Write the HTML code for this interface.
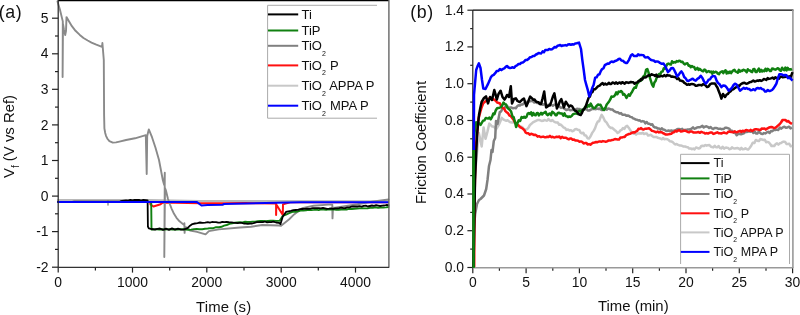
<!DOCTYPE html>
<html><head><meta charset="utf-8"><style>
html,body{margin:0;padding:0;background:#fff;width:800px;height:315px;overflow:hidden}
svg{display:block;will-change:transform}
</style></head><body>
<svg width="800" height="315" viewBox="0 0 800 315">
<rect width="800" height="315" fill="#fff"/>
<g fill="none" stroke-linejoin="round" stroke-linecap="round">
<path d="M58 201.4 L150 201.4 L150.5 204.5 L153.5 206.5 L160.6 204.3 L163 202.5 L200 203.3 L224 203.3 L245 203 L276.1 203.5 L276.1 215 L276.3 204.4 L282.8 215 L283 204.4 L290 202.3 L388 202.2" stroke="#ff1010" stroke-width="2"/>
<path d="M58 200 L148 200 L200 201 L388 201.3" stroke="#b8b8b8" stroke-width="2"/>
<path d="M57.5 1.5 L59.9 9.5 L62.8 21.4 L62.6 77 L63 24 L64 30 L65.2 35 L66 31 L66.5 17.1 L68.5 20.5 L71.9 26.2 L75.5 30.8 L79.8 34.9 L83.5 38 L87.7 40.5 L91.5 42.6 L95.7 44.4 L102 46.8 L102.4 43 L103.8 60 L104.1 115 L104.4 128.3 L105.2 133 L106.1 136.1 L107.6 139 L109.4 141.1 L112.8 142.6 L116 142.4 L119.4 141.6 L126.1 140 L135 138.3 L145.8 135.2 L146.7 174 L147.2 136 L148.8 129.4 L152 137.2 L155.5 147.7 L159 160 L162.8 180 L164.2 185 L164.8 172.7 L164.3 257 L165 188 L165.8 190 L168 199 L170 204.5 L171.7 208.8 L174 213.8 L176.5 217.8 L179.5 221.3 L182.9 224 L184.2 225 L184.4 223.3 L184.6 232.9 L185 227 L187.6 228 L190.1 230.5 L197 231.8 L205.6 234.4 L208.9 231.1 L218.9 229.4 L240 227.5 L251.1 226.7 L262.2 225 L278.9 225.5 L281.1 225.7 L289.2 219.2 L294.1 214.4 L302.2 208.3 L313.6 205.8 L328.2 204.6 L332.3 204.6 L332.5 218.4 L333 207.6 L335 207.6 L357.5 204.3 L373.7 201.4 L388.5 199.5" stroke="#8a8a8a" stroke-width="1.9"/>
<path d="M108 201 L108 205" stroke="#909090" stroke-width="1.5"/>
<path d="M58 201.9 L60.5 201.9 L63 201.9 L65.6 201.9 L68.1 201.9 L70.6 201.9 L73.1 201.9 L75.6 201.9 L78.2 201.9 L80.7 201.9 L83.2 201.9 L85.7 201.9 L88.2 201.9 L90.7 201.9 L93.3 201.9 L95.8 201.9 L98.3 201.9 L100.8 201.9 L103.3 201.9 L105.9 201.9 L108.4 201.9 L110.9 201.9 L113.4 201.9 L115.9 201.9 L118.5 201.9 L121 201.9 L123.5 201.9 L126 201.9 L128.5 201.9 L131 201.9 L133.6 201.9 L136.1 201.9 L138.6 201.9 L141.1 201.9 L143.6 201.9 L146.2 201.9 L148.7 201.9 L151.2 201.9 L151.5 229.5 L154.1 229.4 L156.8 229.2 L159.4 229.6 L162.1 229.2 L164.7 229.6 L167.3 229.4 L170 229.2 L172.6 229.6 L175.3 229.2 L177.9 229.5 L180.5 229.2 L183.2 229.3 L185.8 229.5 L188.5 229.9 L191.1 229.6 L193.9 229.1 L196.7 229 L199.4 229.2 L202.2 229.2 L205 228.7 L207.8 228.5 L210.6 228.1 L213.4 228.2 L216.1 227.2 L218.9 227.2 L221.5 226.8 L224.1 225.6 L226.7 225 L229.4 223.9 L232.2 223.3 L234.8 222.7 L237.4 222.5 L240 222.3 L242.5 222.4 L245.1 221.8 L247.6 222 L250.2 221.9 L252.7 221.6 L255.2 221.6 L257.8 221.1 L260.3 221 L262.8 221 L265.4 221.3 L267.9 221 L270.5 220.8 L273 220.8 L276.2 220.9 L279.5 220.9 L282.7 216 L286 214.6 L289.2 213.1 L292.5 211.9 L295.2 211.8 L297.9 211.4 L300.6 210.6 L303.3 210.6 L306 210.2 L308.7 209.8 L311.2 210.1 L313.7 209.9 L316.2 209.6 L318.7 210.1 L321.2 209.4 L323.7 209.6 L326.2 209.8 L328.7 209.3 L331.2 209.6 L333.7 209.2 L336.2 209.7 L338.7 209.7 L341.2 209.5 L343.8 209.4 L346.5 209.5 L349.1 208.9 L351.7 209 L354.4 208.7 L357 208.5 L359.6 208.4 L362.2 208.2 L364.9 208.4 L367.5 208.4 L370.1 207.9 L372.8 207.9 L375.4 207.3 L378 207.7 L380.6 207.5 L383.2 207.6 L385.9 207.4 L388.5 207" stroke="#108010" stroke-width="1.9"/>
<path d="M58 201.8 L60 201.8 L62 201.8 L64 201.8 L66 201.8 L68 201.8 L70 201.8 L72 201.8 L74 201.7 L76 201.7 L78 201.7 L80 201.7 L82 201.7 L84 201.7 L86 201.7 L88 201.7 L90 201.7 L92 201.7 L94 201.7 L96 201.7 L98 201.7 L100 201.7 L102 201.7 L104 201.6 L106 201.6 L108 201.6 L110 201.6 L112 201.6 L114 201.6 L116 201.6 L118 201.6 L120 201.3 L122 200.8 L124 200.6 L126 200.4 L128.2 200.6 L130.3 199.9 L132.5 200.3 L134.6 200 L136.8 200 L139 199.9 L141.1 200.6 L143.3 199.9 L145.4 200.1 L147.6 200.3 L147.9 226.5 L148.8 228.3 L151.1 229 L155 229.5 L157.5 228.9 L160 228.5 L163 229.8 L166 228.6 L169 229.9 L172 228.4 L175 229.6 L178 228.7 L181 229.7 L183.3 229.7 L185.6 228.9 L187.6 228.1 L190 225.7 L192.4 224.1 L194.9 223.5 L197.5 223.1 L200 222.5 L202.6 222.8 L205.2 222.6 L207.8 222.2 L209.9 222.6 L212 222 L214 222.1 L216.1 222.1 L218.2 222.6 L220.2 222.7 L222.3 221.9 L224.4 222.2 L226.6 222 L228.9 222.2 L231.1 222.3 L233.4 222.7 L235.6 222.8 L237.6 223.1 L239.7 222.9 L241.7 222.9 L243.7 223.5 L245.8 223.6 L247.8 223.9 L250 223.5 L252.2 223.5 L254.5 222.8 L256.7 222.2 L258.8 222.2 L260.9 222.2 L262.9 222.2 L265 221.5 L267.1 222.3 L269.1 222.1 L271.2 222.1 L273.3 221.7 L276.1 222.5 L278.9 222.8 L280.5 224.1 L282.7 216.8 L286 211.9 L288.4 211.3 L290.9 210.8 L293.3 210.1 L295.7 210 L297.9 209.9 L300 209.2 L302.2 209 L304.4 208.9 L306.5 208.7 L308.7 208.8 L310.7 208.6 L312.8 208.2 L314.8 208.1 L316.9 208.2 L318.9 208.1 L320.9 208.3 L323 207.9 L325 208.3 L327 208.8 L329.1 208.7 L331.1 208.3 L333.1 208.8 L335.1 208.4 L337.2 208.3 L339.2 208.1 L341.2 207.7 L343.3 208.2 L345.3 208.1 L347.3 207.4 L349.4 207.3 L351.4 206.7 L353.4 206.5 L355.5 206.5 L357.5 206.5 L359.6 206.2 L361.6 206.6 L363.7 205.9 L365.8 205.6 L367.8 206.5 L369.9 206 L372 205.5 L374 205.8 L376.1 205.2 L378.2 205.6 L380.2 206 L382.3 205.7 L384.4 205.5 L386.4 205 L388.5 205.1" stroke="#000" stroke-width="1.8"/>
<path d="M58 201.9 L197 202.1 L201.5 205.5 L207.5 205.1 L222.5 204.8 L224 204 L245 203.6 L300 202.2 L388 202.2" stroke="#0000ff" stroke-width="2"/>
</g>
<g stroke-width="1.2" fill="none">
<line x1="58.2" y1="0.6" x2="389" y2="0.6" stroke="#000" stroke-width="1.4"/>
<line x1="388.9" y1="0" x2="388.9" y2="267.8" stroke="#666" stroke-width="1.4"/>
<line x1="58.2" y1="0" x2="58.2" y2="267.3" stroke="#222"/>
<line x1="58.2" y1="267.3" x2="389" y2="267.3" stroke="#333"/>
<line x1="52" y1="267.2" x2="58.2" y2="267.2" stroke="#222"/>
<line x1="52" y1="231.6" x2="58.2" y2="231.6" stroke="#222"/>
<line x1="52" y1="196.1" x2="58.2" y2="196.1" stroke="#222"/>
<line x1="52" y1="160.5" x2="58.2" y2="160.5" stroke="#222"/>
<line x1="52" y1="124.9" x2="58.2" y2="124.9" stroke="#222"/>
<line x1="52" y1="89.3" x2="58.2" y2="89.3" stroke="#222"/>
<line x1="52" y1="53.8" x2="58.2" y2="53.8" stroke="#222"/>
<line x1="52" y1="18.2" x2="58.2" y2="18.2" stroke="#222"/>
<line x1="55" y1="249.4" x2="58.2" y2="249.4" stroke="#222"/>
<line x1="55" y1="213.8" x2="58.2" y2="213.8" stroke="#222"/>
<line x1="55" y1="178.3" x2="58.2" y2="178.3" stroke="#222"/>
<line x1="55" y1="142.7" x2="58.2" y2="142.7" stroke="#222"/>
<line x1="55" y1="107.1" x2="58.2" y2="107.1" stroke="#222"/>
<line x1="55" y1="71.6" x2="58.2" y2="71.6" stroke="#222"/>
<line x1="55" y1="36" x2="58.2" y2="36" stroke="#222"/>
<line x1="58.2" y1="267.3" x2="58.2" y2="272.6" stroke="#222"/>
<line x1="132.5" y1="267.3" x2="132.5" y2="272.6" stroke="#222"/>
<line x1="206.8" y1="267.3" x2="206.8" y2="272.6" stroke="#222"/>
<line x1="281.2" y1="267.3" x2="281.2" y2="272.6" stroke="#222"/>
<line x1="355.5" y1="267.3" x2="355.5" y2="272.6" stroke="#222"/>
<line x1="95.4" y1="267.3" x2="95.4" y2="270.5" stroke="#222"/>
<line x1="169.7" y1="267.3" x2="169.7" y2="270.5" stroke="#222"/>
<line x1="244" y1="267.3" x2="244" y2="270.5" stroke="#222"/>
<line x1="318.3" y1="267.3" x2="318.3" y2="270.5" stroke="#222"/>
</g>
<path d="M377 5.3 H267.6 V118.2 H377" fill="none" stroke="#aaa" stroke-width="1"/>
<line x1="268" y1="14.4" x2="298.2" y2="14.4" stroke="#000" stroke-width="2"/>
<line x1="268" y1="30.5" x2="298.2" y2="30.5" stroke="#108010" stroke-width="2"/>
<line x1="268" y1="45.8" x2="298.2" y2="45.8" stroke="#808080" stroke-width="2"/>
<line x1="268" y1="65.4" x2="298.2" y2="65.4" stroke="#ff1010" stroke-width="2"/>
<line x1="268" y1="85.7" x2="298.2" y2="85.7" stroke="#c8c8c8" stroke-width="2"/>
<line x1="268" y1="105.7" x2="298.2" y2="105.7" stroke="#0000ff" stroke-width="2"/>
<g font-family="Liberation Sans, sans-serif" font-size="13" fill="#111">
<text x="301.5" y="18.8">Ti</text>
<text x="301.5" y="34.9">TiP</text>
<text x="301.5" y="50.2">TiO<tspan font-size="7" dy="5.4">2</tspan></text>
<text x="301.5" y="69.8">TiO<tspan font-size="7" dy="5.4">2</tspan><tspan dy="-5.4" dx="0.4"> P</tspan></text>
<text x="301.5" y="90.1">TiO<tspan font-size="7" dy="5.4">2</tspan><tspan dy="-5.4" dx="0.4"> APPA P</tspan></text>
<text x="301.5" y="110.1">TiO<tspan font-size="7" dy="5.4">2</tspan><tspan dy="-5.4" dx="0.4"> MPA P</tspan></text>
</g>
<g font-family="Liberation Sans, sans-serif" font-size="13.9" fill="#111">
<text x="48.5" y="271.8" text-anchor="end">-2</text>
<text x="48.5" y="236.2" text-anchor="end">-1</text>
<text x="48.5" y="200.7" text-anchor="end">0</text>
<text x="48.5" y="165.1" text-anchor="end">1</text>
<text x="48.5" y="129.5" text-anchor="end">2</text>
<text x="48.5" y="93.9" text-anchor="end">3</text>
<text x="48.5" y="58.4" text-anchor="end">4</text>
<text x="48.5" y="22.8" text-anchor="end">5</text>
<text x="58.2" y="287.2" text-anchor="middle">0</text>
<text x="132.5" y="287.2" text-anchor="middle">1000</text>
<text x="206.8" y="287.2" text-anchor="middle">2000</text>
<text x="281.2" y="287.2" text-anchor="middle">3000</text>
<text x="355.5" y="287.2" text-anchor="middle">4000</text>
</g>
<text font-family="Liberation Sans, sans-serif" font-size="14.9" letter-spacing="0.15" x="196" y="311.5" fill="#111">Time (s)</text>
<text font-family="Liberation Sans, sans-serif" font-size="14.9" fill="#111" transform="translate(14.3 178) rotate(-90)">V<tspan font-size="10" dy="4.8">f</tspan><tspan dy="-4.8"> (V vs Ref)</tspan></text>
<text font-family="Liberation Sans, sans-serif" font-size="17.8" letter-spacing="0.6" x="-1.3" y="18" fill="#111">(a)</text>
<g stroke-width="1.2" fill="none">
<line x1="472.8" y1="10.1" x2="793.5" y2="10.1" stroke="#000" stroke-width="1.4"/>
<line x1="792.9" y1="10" x2="792.9" y2="268" stroke="#999" stroke-width="1.6"/>
<line x1="472.8" y1="10.1" x2="472.8" y2="267.7" stroke="#222"/>
<line x1="467.4" y1="267.5" x2="472.8" y2="267.5" stroke="#222"/>
<line x1="467.4" y1="230.7" x2="472.8" y2="230.7" stroke="#222"/>
<line x1="467.4" y1="194" x2="472.8" y2="194" stroke="#222"/>
<line x1="467.4" y1="157.2" x2="472.8" y2="157.2" stroke="#222"/>
<line x1="467.4" y1="120.5" x2="472.8" y2="120.5" stroke="#222"/>
<line x1="467.4" y1="83.7" x2="472.8" y2="83.7" stroke="#222"/>
<line x1="467.4" y1="46.9" x2="472.8" y2="46.9" stroke="#222"/>
<line x1="467.4" y1="10.2" x2="472.8" y2="10.2" stroke="#222"/>
<line x1="470.2" y1="249.1" x2="472.8" y2="249.1" stroke="#222"/>
<line x1="470.2" y1="212.4" x2="472.8" y2="212.4" stroke="#222"/>
<line x1="470.2" y1="175.6" x2="472.8" y2="175.6" stroke="#222"/>
<line x1="470.2" y1="138.8" x2="472.8" y2="138.8" stroke="#222"/>
<line x1="470.2" y1="102.1" x2="472.8" y2="102.1" stroke="#222"/>
<line x1="470.2" y1="65.3" x2="472.8" y2="65.3" stroke="#222"/>
<line x1="470.2" y1="28.6" x2="472.8" y2="28.6" stroke="#222"/>
<line x1="472.8" y1="267.7" x2="472.8" y2="273.2" stroke="#222"/>
<line x1="526.1" y1="267.7" x2="526.1" y2="273.2" stroke="#222"/>
<line x1="579.4" y1="267.7" x2="579.4" y2="273.2" stroke="#222"/>
<line x1="632.7" y1="267.7" x2="632.7" y2="273.2" stroke="#222"/>
<line x1="686" y1="267.7" x2="686" y2="273.2" stroke="#222"/>
<line x1="739.3" y1="267.7" x2="739.3" y2="273.2" stroke="#222"/>
<line x1="792.6" y1="267.7" x2="792.6" y2="273.2" stroke="#222"/>
<line x1="499.4" y1="267.7" x2="499.4" y2="270.8" stroke="#222"/>
<line x1="552.8" y1="267.7" x2="552.8" y2="270.8" stroke="#222"/>
<line x1="606" y1="267.7" x2="606" y2="270.8" stroke="#222"/>
<line x1="659.4" y1="267.7" x2="659.4" y2="270.8" stroke="#222"/>
<line x1="712.6" y1="267.7" x2="712.6" y2="270.8" stroke="#222"/>
<line x1="766" y1="267.7" x2="766" y2="270.8" stroke="#222"/>
</g>
<g fill="none" stroke-linejoin="round">
<line x1="473" y1="267.7" x2="793" y2="267.7" stroke="#999" stroke-width="1.6"/>
<path d="M473.5 267 L475 175 L476.9 153.7 L478.8 133.1 L480.2 139 L481.7 146.4 L483.6 127.4 L485.5 138.8 L487.4 131.9 L489.3 123.6 L490.6 124.8 L492 126.5 L493.3 126.6 L494.7 127.5 L496 129.3 L497.4 127.2 L498.9 124.8 L500.3 121.6 L501.7 117.9 L503.2 119.4 L504.7 120.2 L506.3 120.8 L507.8 120.3 L509.3 121.7 L510.6 122.3 L512 122.5 L513.3 122.3 L514.6 122.8 L516 124 L517.3 124.5 L518.6 126.2 L519.9 127.4 L521.3 126.7 L522.6 127.4 L524.2 129.5 L525.7 129.5 L527.1 129.2 L528.5 127.7 L530 124.9 L531.4 123.8 L532.9 122.4 L534.4 121.6 L536 120.8 L537.5 120.1 L539 120 L540.3 120.3 L541.7 121 L543 120.8 L544.4 120 L545.7 120.4 L547 120.7 L548.4 119 L549.7 120.4 L551.1 121 L552.4 120 L553.8 121.5 L555.1 122.2 L556.5 122.4 L557.8 122.5 L559.2 124.8 L560.5 124.5 L561.9 125.7 L563.5 127.5 L565 127.9 L566.5 129.9 L568 129.4 L569.5 130.5 L570.9 130.1 L572.3 131.3 L573.7 130.7 L575.1 129.2 L576.5 129 L577.9 129.8 L579.2 129.9 L580.6 132.6 L581.9 133.3 L583.2 132.7 L584.6 135.3 L585.9 135.4 L587.5 138.2 L589 138.6 L590.6 136.3 L592.2 132.9 L593.8 130.6 L595.1 128.1 L596.4 124.4 L597.8 121.5 L599.1 121.2 L600.4 117.8 L601.7 114.8 L603.3 117.4 L604.9 121 L606.5 122.4 L608.1 125.1 L609.5 127.1 L610.8 128.1 L612.2 127.8 L613.5 129 L614.9 130.2 L616.2 131.2 L617.6 133 L619 132.2 L620.3 130.4 L621.7 129.8 L623 128.1 L624.4 128.9 L625.7 126.6 L627.1 125.9 L628.7 127.8 L630.3 130.1 L631.9 132.8 L633.5 133.8 L634.8 133.5 L636.1 134.6 L637.4 133.5 L638.7 133.5 L640 133.3 L641.4 133.6 L642.7 132.7 L644.1 134 L645.4 133.6 L646.8 133.5 L648.1 135.6 L649.5 135.2 L650.9 134.8 L652.2 136 L653.6 137 L654.9 137 L656.3 136.9 L657.6 137.7 L659 138.1 L660.4 138.5 L661.7 139.3 L663.1 138 L664.5 139.3 L665.9 138.9 L667.2 139.2 L668.6 140 L670 141.3 L671.3 141.4 L672.7 142.2 L674 143.4 L675.4 144.4 L676.7 144 L678.1 144.8 L679.5 145.4 L680.9 145.5 L682.2 145.9 L683.6 146.6 L685 146.4 L686.4 147 L687.8 147.2 L689.2 148.6 L690.5 148.4 L691.9 149.2 L693.3 148.6 L694.6 149.4 L696 147.4 L697.3 147.9 L698.7 148.5 L700 148 L701.3 146 L702.7 145.7 L704 146.1 L705.4 145 L706.7 145.7 L708 145.2 L709.4 145 L710.7 146.5 L712 147 L713.3 147.4 L714.7 145.7 L716 147.2 L717.3 147.2 L718.7 146.1 L720 148 L721.3 148.4 L722.6 146.7 L724 148.6 L725.3 147.7 L726.6 147.6 L728 147.9 L729.3 149.2 L730.7 148.9 L732 147.4 L733.3 148.2 L734.7 148.5 L736 148.2 L737.4 148 L738.7 148.4 L740.1 149.5 L741.4 147.9 L742.7 149.3 L744.1 149.1 L745.4 148.2 L746.8 149.1 L748.1 149.6 L749.6 148 L751.2 145.8 L752.7 142.8 L754.3 143.1 L755.8 140 L757.3 140.7 L758.8 141.1 L760.4 139.1 L761.9 139.4 L763.4 140 L764.8 139.7 L766.1 142.3 L767.5 141.9 L768.8 142.4 L770.2 144 L771.5 146 L772.9 145.8 L774.3 146 L775.6 144.1 L777 143.3 L778.4 144.6 L779.8 143.3 L781.1 143 L782.5 142 L783.9 141.6 L785.2 142 L786.6 144.1 L787.9 144 L789.3 143.7 L790.6 146.3 L792 145.8" stroke="#c8c8c8" stroke-width="2.5"/>
<path d="M473.5 267 L473.8 230 L475.1 214.3 L477 204 L479 200 L480.5 199 L482 197.5 L484 195.5 L486.2 189 L487.5 180 L489 166 L490.5 160 L491.5 150 L492.5 152 L493.8 141 L495.2 138 L496 121 L497.5 124 L499.8 112.1 L501.2 111.3 L502.6 108.3 L504.1 108.6 L505.5 106.4 L507 105.8 L508.5 108 L510.1 107.4 L511.6 107.6 L513.1 108.3 L514.5 107.9 L515.8 108.2 L517.2 106.2 L518.5 105.3 L519.9 105.6 L521.2 104.5 L522.6 104.5 L524.1 103.1 L525.5 102.6 L527 101.8 L528.5 101.5 L529.9 101.2 L531.4 101 L532.8 101 L534.3 102.5 L535.7 102 L537.1 102.9 L538.6 102.7 L540 103.5 L541.5 103.3 L542.9 104.8 L544.3 104.3 L545.8 103.7 L547.2 105.3 L548.6 104.9 L550 104.1 L551.4 104.7 L552.9 105.8 L554.3 104.8 L555.6 104.4 L557 106.4 L558.3 106.1 L559.6 106.7 L561 107.9 L562.3 107.4 L563.6 108.1 L564.9 109 L566.3 110.1 L567.6 109.5 L568.9 109.2 L570.3 110.3 L571.6 110.1 L572.9 110 L574.3 109.5 L575.6 109.4 L576.9 108.8 L578.3 109 L579.6 108.9 L580.9 110.4 L582.3 109.4 L583.6 110 L585 109.2 L586.3 108.9 L587.7 110.5 L589 110.5 L590.4 110 L591.8 109.1 L593.1 108.9 L594.5 108.9 L595.9 109.2 L597.2 108.5 L598.6 109 L599.9 108.5 L601.3 110 L602.7 110 L604 108.9 L605.4 108.2 L606.7 109.7 L608.1 108.6 L609.5 108.8 L611 109.5 L612.4 109.4 L613.8 110.8 L615.2 111.6 L616.7 112.3 L618.1 112.3 L619.5 113.6 L621 113.1 L622.4 114.8 L623.7 114.7 L625.1 114.7 L626.4 115.8 L627.8 115.5 L629.1 115.9 L630.4 116.9 L631.8 117.2 L633.1 118.4 L634.4 118.7 L635.8 119.6 L637.1 119.8 L638.5 120.4 L639.8 120.3 L641.2 121.6 L642.6 121.1 L644 121.4 L645.3 123.4 L646.7 122 L648.1 123.8 L649.5 123.8 L650.9 124.8 L652.2 124.2 L653.6 126.6 L654.9 127.4 L656.3 127.5 L657.6 128.4 L659 128.6 L660.4 129.6 L661.7 128.3 L663.1 129.5 L664.5 129.7 L665.9 130.7 L667.2 130.9 L668.6 130.5 L670 131.1 L671.3 130.5 L672.7 131.1 L674 130.6 L675.4 130.6 L676.7 129.5 L678.1 129 L679.5 129.1 L680.8 129.6 L682.2 128.9 L683.5 130.5 L684.9 129.8 L686.2 129.9 L687.6 129.5 L688.9 129.5 L690.3 129.3 L691.6 128.6 L693 127.3 L694.3 128.8 L695.6 128.4 L697 127.5 L698.3 127.3 L699.7 127.3 L701 126.7 L702.4 125.9 L703.7 127.5 L705.1 126.6 L706.4 126.3 L707.8 126.9 L709.1 128 L710.5 127 L711.9 128.3 L713.2 129 L714.6 128 L715.9 127.9 L717.3 128.3 L718.6 128.9 L720 128.6 L721.3 129.2 L722.6 128.9 L723.9 128.9 L725.2 127.7 L726.5 127.8 L727.8 128.1 L729.1 128.6 L730.6 130.5 L732.1 130.8 L733.7 132.8 L735.2 132.9 L736.7 135.3 L738.1 133.9 L739.6 133.8 L741 134.3 L742.4 133.8 L743.8 133.3 L745.2 132 L746.7 132 L748.1 131.5 L749.4 131.6 L750.7 131.7 L752.1 131.1 L753.4 133 L754.7 131.6 L756 133.4 L757.4 133.5 L758.7 131.6 L760 132.7 L761.3 133.7 L762.7 134.1 L764 133.1 L765.3 133.4 L766.7 132.4 L768.1 131.8 L769.6 133 L771 130.9 L772.4 131.2 L773.9 129.8 L775.3 130.1 L776.7 129.6 L778.2 130 L779.8 127.6 L781.3 128.6 L782.9 127.3 L784.4 126.7 L785.9 127.8 L787.4 127.5 L789 126.7 L790.5 128.4 L792 127.7" stroke="#808080" stroke-width="2.5"/>
<path d="M474.2 267 L474.5 200 L475.6 149 L477.1 133.8 L478.5 118.6 L480.1 112.6 L481.6 107.5 L483.2 103.3 L484.6 102.1 L486.1 100.9 L487.6 99.4 L489 98.6 L491 98.1 L492.5 98.4 L494 99.7 L495.6 100.6 L497.1 102.6 L498.6 102.9 L500 103.5 L501.3 106.3 L502.7 108 L504 108.2 L505.4 111.1 L506.7 112.2 L508.1 113.3 L509.5 115.7 L510.8 116.2 L512.2 118 L513.5 119.7 L514.9 122.4 L516.2 123.3 L517.6 124.8 L519 125.8 L520.3 127.1 L521.7 128 L523 128.8 L524.4 130.2 L525.7 132.7 L527.1 133.3 L528.4 133.2 L529.7 134.7 L531.1 133.8 L532.4 134.2 L533.7 134.9 L535 134.7 L536.4 135.3 L537.7 136.7 L539 136.2 L540.4 137 L541.7 136.9 L543.1 136.6 L544.5 137.2 L545.8 137.3 L547.2 136.7 L548.5 137 L549.9 135.9 L551.3 137.2 L552.6 136.8 L554 137.4 L555.4 137.2 L556.7 136.7 L558.1 137.1 L559.4 136.5 L560.7 138.2 L562.1 136.9 L563.4 137.7 L564.7 137.7 L566 137.7 L567.4 138.7 L568.7 139.3 L570 138.6 L571.4 138.6 L572.7 139.8 L574.1 139.6 L575.4 140.5 L576.8 140.6 L578.1 140.7 L579.5 141.7 L580.9 141.4 L582.2 141.9 L583.6 143.5 L584.9 143.1 L586.3 142.9 L587.6 144.5 L589 144.1 L590.4 144.7 L591.8 143.5 L593.2 142.7 L594.6 142.5 L596.1 142 L597.5 142.2 L598.9 141.5 L600.3 141.5 L601.7 141.7 L603 141.1 L604.4 141.4 L605.7 141.8 L607 141.4 L608.3 140.6 L609.7 140.4 L611 140.4 L612.3 139.9 L613.6 139.7 L615 139 L616.3 139.2 L617.6 139.4 L619 139.6 L620.4 137.5 L621.8 137.5 L623.2 137.1 L624.7 136.9 L626.1 135.2 L627.5 134.6 L628.9 134 L630.3 133.8 L631.7 132.9 L633 132.3 L634.4 132.6 L635.7 131.7 L637.1 131 L638.4 128.8 L639.8 129 L641.1 128.1 L642.4 129.2 L643.7 129.5 L645 128.7 L646.3 128.8 L647.6 128.6 L649 128.2 L650.5 129.4 L651.9 130.8 L653.3 131.1 L654.7 131.6 L656.1 132.3 L657.6 131.5 L659 132.4 L660.4 132 L661.7 132.3 L663.1 133.3 L664.5 133.8 L665.9 134.6 L667.2 134.4 L668.6 134.3 L670 134 L671.3 133.7 L672.7 132.6 L674 132.2 L675.4 130.8 L676.7 131.6 L678.1 130.5 L679.5 130.2 L680.9 131.6 L682.2 131.3 L683.6 130.8 L685 130.7 L686.4 131.1 L687.8 132 L689.2 132.2 L690.5 131.4 L691.9 131.5 L693.3 132.4 L694.6 132.5 L696 132.6 L697.3 132.3 L698.6 132.1 L700 132.8 L701.3 131.8 L702.6 132.4 L704 132.7 L705.3 133.6 L706.6 133.1 L708 133.6 L709.3 132.9 L710.7 132.5 L712 132.6 L713.3 133.9 L714.7 133.5 L716 132.8 L717.3 132.3 L718.7 133.3 L720 133.3 L721.3 133.5 L722.7 132.9 L724 132.5 L725.4 133.1 L726.7 133.4 L728 132 L729.4 131.5 L730.7 131.9 L732 132 L733.4 132.3 L734.7 131.3 L736.1 132.2 L737.4 132 L738.7 131.4 L740.1 130.8 L741.4 132 L742.7 130.7 L744.1 131.5 L745.4 130.3 L746.8 130.1 L748.1 130.5 L749.5 130.8 L750.8 129.9 L752.2 130.9 L753.6 129.9 L754.9 129.3 L756.3 129.2 L757.7 129.4 L759 129.7 L760.4 130.1 L761.7 128.5 L763.1 128.8 L764.5 128.4 L765.8 129.6 L767.2 128.6 L768.6 127.7 L769.9 127.3 L771.3 127 L772.6 127.3 L774 128 L775.3 127.7 L776.7 126.7 L778.2 125.4 L779.6 124.2 L781 122.5 L782.5 120 L783.9 119.9 L785.4 119.9 L786.8 121.5 L788.2 121 L790.1 122.8 L792 123.8" stroke="#ff1010" stroke-width="2.5"/>
<path d="M473.6 267 L473.7 140 L474.9 129.5 L476.2 122.3 L477.3 123.5 L478.4 123.1 L479.5 123.7 L480.6 124.8 L481.9 122.7 L483.1 120.7 L484.4 120.4 L485.7 118 L486.9 118.3 L488.2 118.5 L489.5 117.5 L490.7 119.3 L492 117.2 L493.3 113.5 L494.5 114.2 L495.8 110.2 L497.1 108.3 L498.3 108 L499.6 107.7 L500.9 107.2 L502.2 105.5 L503.5 102.6 L504.8 104.1 L506 104.4 L507.3 107.7 L508.6 108.9 L509.8 109.8 L511.1 111.5 L512.4 116.4 L513.6 117.1 L514.9 121.6 L516.1 127 L517.4 123.2 L518.7 120.4 L520.1 121 L521.6 117 L523 117.8 L524.2 116.8 L525.3 117.7 L526.5 116.9 L527.7 113.6 L528.8 113 L530 114 L531.1 112.4 L532.2 115.5 L533.3 113 L534.4 114.8 L535.6 115.3 L536.7 113.3 L537.8 113 L538.9 115.4 L540 114.2 L541.1 112.9 L542.2 114.5 L543.3 113 L544.4 112.8 L545.6 111.8 L546.7 114.5 L547.8 115.1 L548.9 114 L550 113.5 L551.1 115.1 L552.2 111.8 L553.3 112.6 L554.4 113.4 L555.5 115.2 L556.6 115.2 L557.7 113.2 L558.8 112.7 L559.9 113.3 L561 113.6 L562.1 113.6 L563.3 115.6 L564.5 113.4 L565.7 116.1 L566.9 116.3 L568.1 117.1 L569.3 116.4 L570.5 116.9 L571.7 115.9 L572.8 114.4 L574 113.9 L575.2 113.6 L576.4 113.6 L577.6 114 L578.8 110.9 L580 110.7 L581.2 112.1 L582.4 109.7 L583.6 110 L584.8 107.4 L586 106.2 L587.2 107 L588.3 105.1 L589.5 106.4 L590.7 103.6 L592.1 106.4 L593.6 108.2 L595 107.9 L596.4 106.1 L597.9 104.5 L599.3 105 L600.5 104.8 L601.8 107.5 L603 109.5 L604.3 110 L605.5 107.6 L606.7 104.5 L607.9 103 L609.1 101.4 L610.3 99.4 L611.5 96.5 L612.7 96.7 L613.9 96.4 L615.1 95 L616.2 92.4 L617.4 94.3 L618.6 91.6 L619.8 91.9 L621 91 L622.1 91.9 L623.2 94.7 L624.3 94.1 L625.4 95.7 L626.5 98 L627.6 95.9 L628.7 94.4 L629.8 95.8 L630.9 93.5 L632 92 L633.2 89.4 L634.5 87.6 L635.8 87.8 L637 84 L638.4 82.5 L639.7 80 L641 80.6 L642.4 78 L643.6 76.3 L644.8 75.3 L646.1 69.8 L647.3 69 L648.5 72.4 L649.7 77.2 L650.9 80.8 L652.1 84.7 L653.3 86.7 L654.4 82.5 L655.6 80.9 L656.7 77.7 L657.9 75.4 L659 74 L660.2 74.4 L661.4 71.7 L662.6 71.6 L663.8 68.3 L665 68.8 L666.2 66 L667.4 64 L668.6 63.6 L669.7 64.3 L670.9 64.6 L672 61.3 L673.2 62.7 L674.3 62.1 L675.5 62.5 L676.7 61.1 L677.8 61.6 L679 60.8 L680.2 61 L681.4 62.1 L682.6 61.8 L683.8 63.7 L685 64.4 L686.2 63.4 L687.4 63.3 L688.6 65.7 L689.7 65.6 L690.8 67.3 L691.9 66 L693 66.9 L694.2 67 L695.3 69.6 L696.4 69.2 L697.5 67.9 L698.6 70 L699.7 68.8 L700.9 70 L702 70.8 L703.2 71.3 L704.3 69.6 L705.4 70 L706.6 72.2 L707.7 71.4 L708.9 71.1 L710 72.1 L711.1 71.5 L712.2 73.8 L713.3 71.6 L714.4 72.5 L715.6 71.8 L716.7 72.1 L717.8 73.7 L718.9 74.2 L720 72.5 L721.1 71.9 L722.2 71.3 L723.3 73.1 L724.4 71.1 L725.6 70.4 L726.7 73.5 L727.8 71.7 L728.9 73.1 L730 71.5 L731.1 73.1 L732.2 71.5 L733.3 70.4 L734.4 69.8 L735.6 71.6 L736.7 71.9 L737.8 72.8 L738.9 69.8 L740 71.6 L741.1 70.6 L742.2 71 L743.3 69.7 L744.4 70.1 L745.6 70.9 L746.7 72.3 L747.8 69.2 L748.9 70.5 L750 70.5 L751.1 71.6 L752.2 72.1 L753.3 69.3 L754.4 69 L755.5 71.9 L756.6 72 L757.7 70.2 L758.8 68.6 L759.9 71.7 L761.1 69.7 L762.2 71.5 L763.3 70.5 L764.4 71.2 L765.5 68.7 L766.6 70.9 L767.7 68.9 L768.8 69.5 L769.9 71 L771 70.9 L772.1 68.6 L773.2 68.7 L774.3 69.3 L775.4 69.7 L776.5 69.1 L777.6 68.2 L778.7 68.6 L779.8 70.2 L780.9 70.8 L782.1 67.7 L783.2 69.5 L784.3 70.2 L785.4 67.6 L786.5 70.4 L787.6 67.8 L788.7 69.5 L789.8 69.3 L790.9 69.5 L792 69" stroke="#108010" stroke-width="2.5"/>
<path d="M473.5 267 L475 180 L477 135 L479 115 L480.3 108.1 L481.6 102 L484 98 L486 96.4 L488 103.4 L490 97 L492 100 L494.3 90 L495.6 94.6 L496.8 99.6 L498.5 94 L500.6 90.7 L502.5 97 L504.5 99.6 L505.8 97.5 L507 95 L509 97 L510.8 86.2 L512 103.4 L514 99 L515.9 98.3 L517.5 101 L519.7 102.1 L522 99.8 L523.9 98.5 L525.1 102.2 L526.4 106.1 L527.7 103.3 L528.9 99.7 L530.2 96.6 L531.8 98.1 L533.4 99.8 L534.7 99.6 L535.9 101.5 L537.2 102 L538.5 102.2 L539.7 104 L541 104.2 L542.6 98.4 L544.2 91.5 L546.1 107.4 L547.4 106.7 L548.6 105.5 L549.9 105.5 L551.4 101.4 L552.9 96.6 L554.4 93.4 L555.6 100.3 L556.9 108.6 L558.4 105.3 L559.8 101.5 L561.3 99.1 L562.6 103.1 L563.9 107.4 L565.8 101.7 L567.4 104.2 L569 106.7 L570.5 105.5 L572 106.1 L573.5 108.7 L575 110.7 L576.4 110.9 L577.9 113.3 L579.3 114.5 L580.7 115 L582 112.9 L583.2 109.8 L584.5 108.6 L585.7 106.4 L587.2 101.9 L588.6 97.9 L589.9 96.7 L591.1 92.9 L592.4 92.2 L593.6 89.3 L595 89.3 L596.5 87.8 L597.9 86.4 L599.6 85.7 L601.4 83.8 L602.6 83.1 L603.9 84.6 L605.1 83.6 L606.3 84.5 L607.5 84.3 L608.8 82.7 L610 83.9 L611.2 84.1 L612.5 82.4 L613.7 82.9 L614.9 83.6 L616.1 82.3 L617.4 83.8 L618.6 82.9 L619.8 82.4 L621 83.5 L622.3 82.2 L623.5 82.9 L624.7 83.7 L625.9 82.3 L627.2 82.4 L628.4 82.9 L629.6 82.5 L630.8 82 L632 82.3 L633.3 82.2 L634.5 83.8 L635.7 82.9 L637.2 82.3 L638.6 81 L639.8 81.1 L641 79 L642.2 79.5 L643.5 77.5 L644.7 77.6 L645.9 77.2 L647.1 76.2 L648.5 75.3 L650 75.7 L651.4 74.3 L652.6 74.7 L653.9 75.1 L655.1 76 L656.3 74.7 L657.5 76.8 L658.8 76.4 L660 76.4 L661.4 75.9 L662.8 76.4 L664.3 75.1 L665.7 76.3 L667.1 75 L668.5 75.6 L670 75.6 L671.4 76.8 L672.9 76.6 L674.3 77.1 L675.7 77.2 L677.1 79 L678.6 78.4 L680 80.6 L681.4 80.7 L682.8 81.2 L684.3 82.9 L685.7 83.6 L687 84.8 L688.2 84.3 L689.5 84.7 L690.7 84.3 L692 83.9 L693.2 84.2 L694.5 84.7 L695.7 85.7 L697.1 85.7 L698.6 85 L700 84.9 L701.5 85.4 L702.9 84.3 L704.3 84.5 L705.7 85.6 L707.1 87.1 L708.5 86.5 L710 84.4 L711.5 83.5 L712.9 83.6 L715 83.6 L716.2 85.7 L717.4 87.5 L718.6 90.7 L720 94.4 L721.4 98.6 L723 94 L725 97 L726.4 94.8 L727.9 93.9 L729.3 92.1 L730.7 91.2 L732.1 89.4 L733.6 89.2 L735 87.9 L736.4 86.9 L737.9 85.4 L739.3 86.1 L740.7 84.3 L742 83.5 L743.2 83 L744.5 82.7 L745.7 83.5 L747 83.7 L748.2 83.2 L749.5 82.2 L750.7 82.1 L752 81.4 L753.3 80.6 L754.6 81.6 L755.9 81.2 L757.2 80.5 L758.5 80.9 L759.8 80.2 L761.1 80.9 L762.4 80.3 L763.7 79.1 L765 79.3 L766.3 80 L767.6 78.1 L768.9 78.9 L770.2 78.6 L771.5 78.1 L772.7 77.6 L774 78.9 L775.3 77.2 L776.6 78.1 L777.9 77.9 L779.1 78.6 L780.3 76.8 L781.5 76.7 L782.8 77.3 L784 76.8 L785.2 76.9 L786.4 76.4 L787.8 77.3 L789.3 76.2 L790.7 77.1 L792.5 72.1" stroke="#000" stroke-width="2.5"/>
<path d="M473.8 150 L474 95 L476.2 70 L477.5 66.3 L478.9 63.3 L480.5 68 L482 80 L483.3 88.5 L485.5 89 L487.8 84.4 L489.3 81.1 L490.7 77.6 L492.2 75.6 L493.7 74.9 L495.2 73.2 L496.7 71.1 L498.3 71 L499.9 69 L501.4 70.1 L503 68.9 L504.3 68.4 L505.7 66.9 L507 66 L508.5 67.5 L510 68 L511.3 67.8 L512.7 67.3 L514 67.8 L515.5 66.1 L517 65.4 L518.5 64 L520 64 L521.4 62.7 L522.8 62.5 L524.2 61.4 L525.6 60 L527.1 59.9 L528.6 58.9 L530.1 57.2 L531.5 57 L533 55.9 L534.5 55.9 L536 54.5 L537.3 54 L538.6 53 L539.9 53.3 L541.2 53.4 L542.6 51.4 L543.9 52.3 L545.2 50 L546.5 50 L547.8 50 L549.2 48.9 L550.6 49.4 L552 49.2 L553.3 48.3 L554.7 46.9 L556.1 47.5 L557.5 45.8 L558.9 45.6 L560.2 44.9 L561.5 46.1 L562.8 45.4 L564.1 45.4 L565.4 45.1 L566.7 45.6 L568 44.5 L569.5 44.2 L570.9 44.8 L572.4 44.3 L573.8 44.4 L575.2 43.4 L576.7 43.3 L579 42.6 L581 49 L582.3 59.8 L583.7 69.8 L585 80 L586.4 85.1 L587.9 90.4 L589.3 96.4 L590.7 92.8 L592.2 88 L593.6 85 L595.2 77.6 L596.6 77.3 L598.1 74.7 L599.5 74.3 L600.8 71.1 L602.1 69 L603.5 68.3 L604.8 65.2 L606.2 64.4 L607.6 63.6 L609 63.8 L610.4 62.2 L611.7 61.5 L613.1 62.1 L614.5 61.3 L615.9 60.8 L617.2 60.2 L618.6 59 L620 58.8 L621.4 60.5 L622.9 60.7 L624.3 62.2 L625.7 62.9 L627.1 62.9 L629 59.8 L631 55.2 L632.4 54.3 L633.8 55.9 L635.2 56 L636.7 56.1 L638.1 54.4 L639.5 55.2 L640.9 54.9 L642.2 55.1 L643.5 55.2 L644.9 57.2 L646.2 57.4 L647.6 57.1 L649.1 58.3 L650.6 59.7 L652.2 60.2 L653.7 60.5 L655.2 61.9 L656.8 61.4 L658.4 61.8 L660 62.9 L661.8 63.8 L663.6 63.6 L665 65.8 L666.5 68.9 L667.9 72.1 L669.6 70.5 L671.2 68.3 L672.9 67.9 L674.3 70.2 L675.7 73.1 L677.1 76.4 L678.5 75.2 L680 72.8 L681.4 71.4 L682.8 73.4 L684.2 77 L685.7 78.4 L687.1 80.7 L688.5 80.9 L690 80 L691.4 79.3 L692.8 78.8 L694.3 80.1 L695.7 80.7 L697.4 78.9 L699 77.9 L700.7 75.7 L702.4 78 L704 81.4 L705.7 83.6 L707.1 82.1 L708.5 79.8 L710 79.4 L711.4 77.1 L713.2 75.9 L715 76.4 L716.5 80.3 L717.9 82.9 L719.6 84.3 L721.4 87.1 L723.2 85.4 L725 85.7 L726.8 87.6 L728.6 90.7 L730.3 89.3 L731.9 87.9 L733.6 85 L735 83.7 L736.4 84.3 L738.2 87.5 L740 90.7 L741.8 89.3 L743.6 87.9 L745 88.8 L746.4 88 L747.9 88.9 L749.3 89 L750.7 90.3 L752.1 90 L753.5 89.2 L755 90.2 L756.4 88.5 L757.8 88 L759.3 88.6 L760.7 87.9 L762.1 89.1 L763.6 89.5 L765 91.4 L766.4 91.4 L767.8 90 L769.3 91.1 L770.7 90.7 L772.1 90 L773.5 88.4 L775 86 L776.4 83.6 L777.8 78.7 L779.3 74.3 L780.7 74.3 L782.1 74.4 L783.6 75.6 L785 75 L786.5 75.3 L788 78.1 L789.5 77.5 L791 79 L792.5 80.7" stroke="#0000ff" stroke-width="2.5"/>
<path d="M473.6 268 L473.7 150" stroke="#108010" stroke-width="2.4"/>
</g>
<path d="M680.6 264 V154.3 H789.5 V264" fill="none" stroke="#aaa" stroke-width="1"/>
<line x1="680.8" y1="163.1" x2="709.5" y2="163.1" stroke="#000" stroke-width="2"/>
<line x1="680.8" y1="178.4" x2="709.5" y2="178.4" stroke="#108010" stroke-width="2"/>
<line x1="680.8" y1="194" x2="709.5" y2="194" stroke="#808080" stroke-width="2"/>
<line x1="680.8" y1="213.3" x2="709.5" y2="213.3" stroke="#ff1010" stroke-width="2"/>
<line x1="680.8" y1="232.4" x2="709.5" y2="232.4" stroke="#c8c8c8" stroke-width="2"/>
<line x1="680.8" y1="251.9" x2="709.5" y2="251.9" stroke="#0000ff" stroke-width="2"/>
<g font-family="Liberation Sans, sans-serif" font-size="12.5" fill="#111">
<text x="713.5" y="167.4">Ti</text>
<text x="713.5" y="182.7">TiP</text>
<text x="713.5" y="198.3">TiO<tspan font-size="6.8" dy="5.4">2</tspan></text>
<text x="713.5" y="217.6">TiO<tspan font-size="6.8" dy="5.4">2</tspan><tspan dy="-5.4" dx="0.4"> P</tspan></text>
<text x="713.5" y="236.7">TiO<tspan font-size="6.8" dy="5.4">2</tspan><tspan dy="-5.4" dx="0.4"> APPA P</tspan></text>
<text x="713.5" y="256.2">TiO<tspan font-size="6.8" dy="5.4">2</tspan><tspan dy="-5.4" dx="0.4"> MPA P</tspan></text>
</g>
<g font-family="Liberation Sans, sans-serif" font-size="13.9" fill="#111">
<text x="464" y="271.9" text-anchor="end">0.0</text>
<text x="464" y="235.1" text-anchor="end">0.2</text>
<text x="464" y="198.4" text-anchor="end">0.4</text>
<text x="464" y="161.6" text-anchor="end">0.6</text>
<text x="464" y="124.9" text-anchor="end">0.8</text>
<text x="464" y="88.1" text-anchor="end">1.0</text>
<text x="464" y="51.3" text-anchor="end">1.2</text>
<text x="464" y="14.6" text-anchor="end">1.4</text>
<text x="472.8" y="287.2" text-anchor="middle">0</text>
<text x="526.1" y="287.2" text-anchor="middle">5</text>
<text x="579.4" y="287.2" text-anchor="middle">10</text>
<text x="632.7" y="287.2" text-anchor="middle">15</text>
<text x="686" y="287.2" text-anchor="middle">20</text>
<text x="739.3" y="287.2" text-anchor="middle">25</text>
<text x="792.6" y="287.2" text-anchor="middle">30</text>
</g>
<text font-family="Liberation Sans, sans-serif" font-size="14.9" x="598" y="310.8" fill="#111">Time (min)</text>
<text font-family="Liberation Sans, sans-serif" font-size="14.9" fill="#111" transform="translate(425.9 204) rotate(-90)">Friction Coefficient</text>
<text font-family="Liberation Sans, sans-serif" font-size="17.8" letter-spacing="0.6" x="410.3" y="18" fill="#111">(b)</text>
</svg>
</body></html>
